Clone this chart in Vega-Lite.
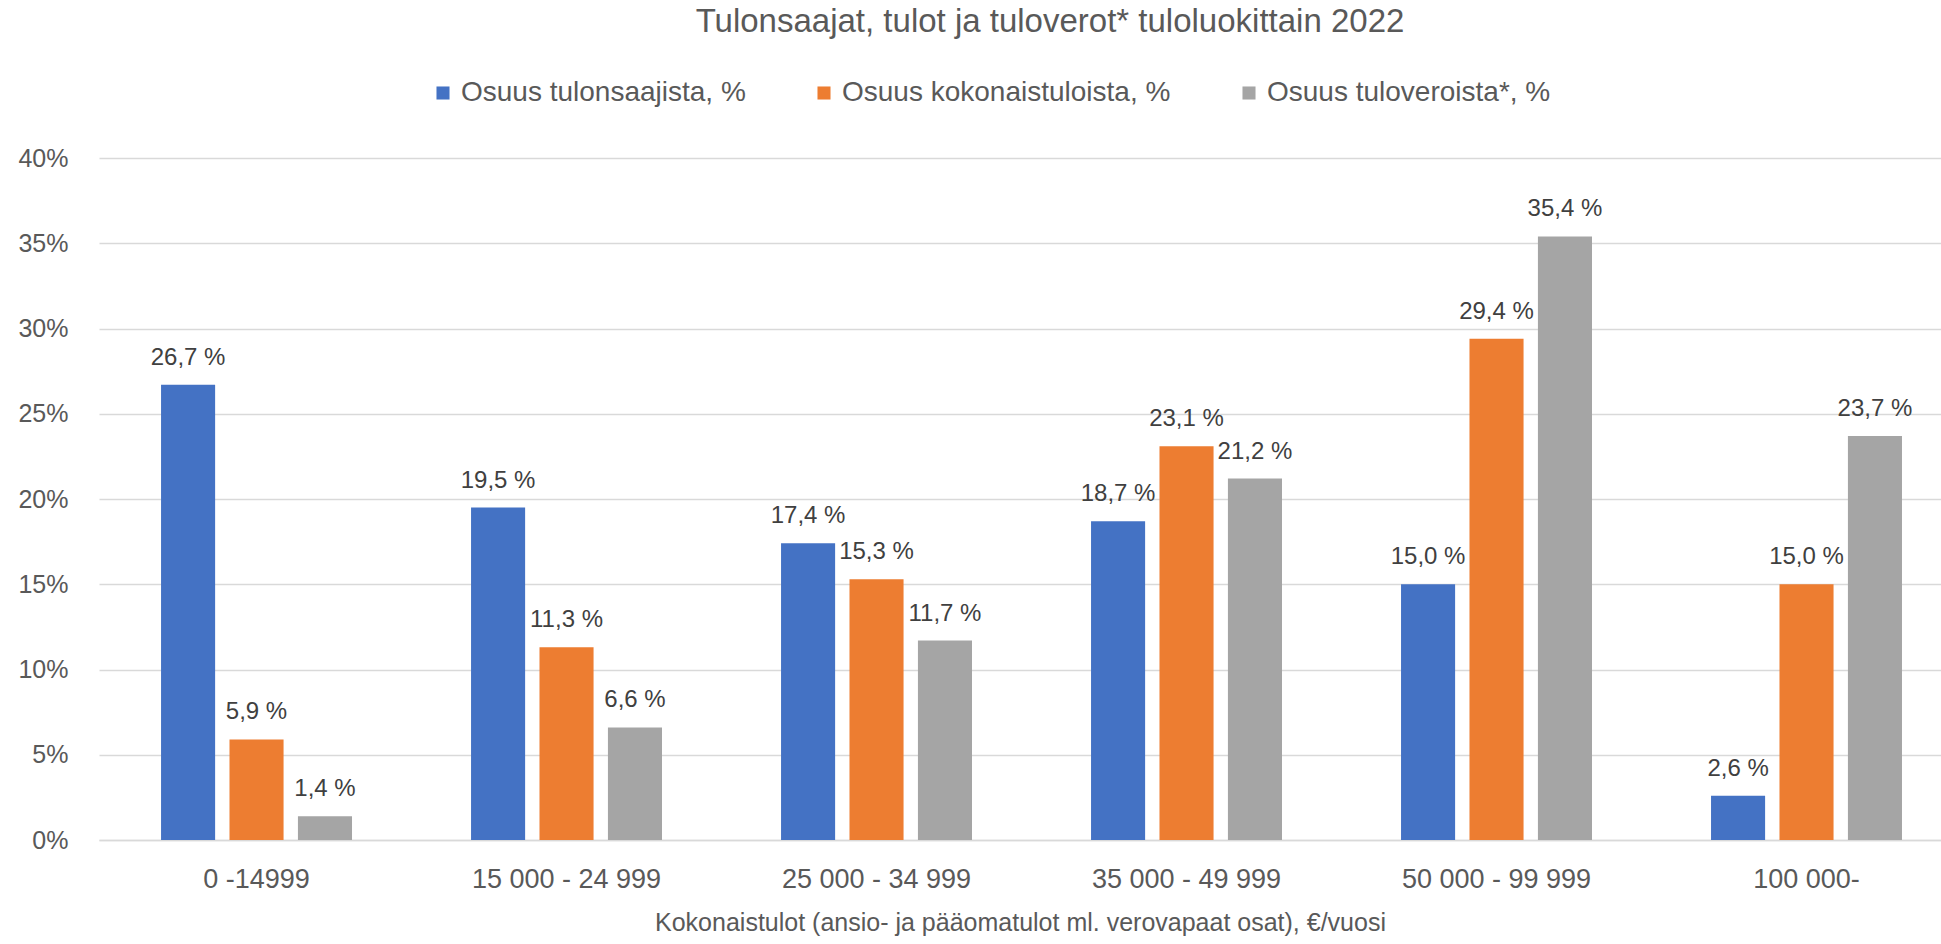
{
  "$schema": "https://vega.github.io/schema/vega-lite/v6.json",
  "autosize": {"type": "none"},
  "width": 1842,
  "height": 682,
  "padding": {"left": 99, "top": 158, "right": 0, "bottom": 104},
  "background": "white",
  "config": {
    "font": "Liberation Sans, sans-serif",
    "view": {"stroke": null},
    "axis": {"labelColor": "#595959", "titleColor": "#595959", "labelFont": "Liberation Sans, sans-serif", "titleFont": "Liberation Sans, sans-serif"}
  },
  "title": {
    "text": "Tulonsaajat, tulot ja tuloverot* tuloluokittain 2022",
    "fontSize": 33,
    "fontWeight": "normal",
    "color": "#595959",
    "anchor": "middle",
    "offset": 40,
    "dx": 30,
    "font": "Liberation Sans, sans-serif"
  },
  "data": {
    "values": [
      {"luokka": "0 -14999", "sarja": "Osuus tulonsaajista, %", "arvo": 26.7},
      {"luokka": "0 -14999", "sarja": "Osuus kokonaistuloista, %", "arvo": 5.9},
      {"luokka": "0 -14999", "sarja": "Osuus tuloveroista*, %", "arvo": 1.4},
      {"luokka": "15 000 - 24 999", "sarja": "Osuus tulonsaajista, %", "arvo": 19.5},
      {"luokka": "15 000 - 24 999", "sarja": "Osuus kokonaistuloista, %", "arvo": 11.3},
      {"luokka": "15 000 - 24 999", "sarja": "Osuus tuloveroista*, %", "arvo": 6.6},
      {"luokka": "25 000 - 34 999", "sarja": "Osuus tulonsaajista, %", "arvo": 17.4},
      {"luokka": "25 000 - 34 999", "sarja": "Osuus kokonaistuloista, %", "arvo": 15.3},
      {"luokka": "25 000 - 34 999", "sarja": "Osuus tuloveroista*, %", "arvo": 11.7},
      {"luokka": "35 000 - 49 999", "sarja": "Osuus tulonsaajista, %", "arvo": 18.7},
      {"luokka": "35 000 - 49 999", "sarja": "Osuus kokonaistuloista, %", "arvo": 23.1},
      {"luokka": "35 000 - 49 999", "sarja": "Osuus tuloveroista*, %", "arvo": 21.2},
      {"luokka": "50 000 - 99 999", "sarja": "Osuus tulonsaajista, %", "arvo": 15.0},
      {"luokka": "50 000 - 99 999", "sarja": "Osuus kokonaistuloista, %", "arvo": 29.4},
      {"luokka": "50 000 - 99 999", "sarja": "Osuus tuloveroista*, %", "arvo": 35.4},
      {"luokka": "100 000-", "sarja": "Osuus tulonsaajista, %", "arvo": 2.6},
      {"luokka": "100 000-", "sarja": "Osuus kokonaistuloista, %", "arvo": 15.0},
      {"luokka": "100 000-", "sarja": "Osuus tuloveroista*, %", "arvo": 23.7}
    ]
  },
  "encoding": {
    "x": {
      "field": "luokka",
      "type": "nominal",
      "sort": null,
      "scale": {"paddingInner": 0.384, "paddingOuter": 0.163, "align": 0.614},
      "axis": {
        "title": "Kokonaistulot (ansio- ja pääomatulot ml. verovapaat osat), €/vuosi",
        "labelAngle": 0,
        "labelFontSize": 27,
        "labelLimit": 0,
        "titleFontSize": 25,
        "titleFontWeight": "normal",
        "labelPadding": 26,
        "titlePadding": 18,
        "ticks": false,
        "domainColor": "#d9d9d9",
        "domainWidth": 1.5,
        "grid": false
      }
    },
    "xOffset": {
      "field": "sarja",
      "type": "nominal",
      "sort": null,
      "scale": {"paddingInner": 0.21, "paddingOuter": 0}
    },
    "y": {
      "field": "arvo",
      "type": "quantitative",
      "scale": {"domain": [0, 40], "nice": false},
      "axis": {
        "title": null,
        "values": [0, 5, 10, 15, 20, 25, 30, 35, 40],
        "labelExpr": "datum.value + '%'",
        "labelFontSize": 25,
        "labelPadding": 31,
        "ticks": false,
        "domain": false,
        "gridColor": "#d9d9d9",
        "gridWidth": 1.5
      }
    }
  },
  "layer": [
    {
      "mark": {"type": "bar"},
      "encoding": {
        "color": {
          "field": "sarja",
          "type": "nominal",
          "sort": null,
          "scale": {
            "domain": ["Osuus tulonsaajista, %", "Osuus kokonaistuloista, %", "Osuus tuloveroista*, %"],
            "range": ["#4472C4", "#ED7D31", "#A5A5A5"]
          },
          "legend": {
            "title": null,
            "orient": "none",
            "direction": "horizontal",
            "legendX": 330,
            "legendY": -79,
            "symbolType": "square",
            "symbolSize": 170,
            "symbolStrokeWidth": 0,
            "labelFontSize": 28,
            "labelColor": "#595959",
            "labelLimit": 0,
            "labelOffset": 4,
            "columnPadding": 64,
            "labelFont": "Liberation Sans, sans-serif"
          }
        }
      }
    },
    {
      "mark": {
        "type": "text",
        "baseline": "middle",
        "dy": -27,
        "fontSize": 24,
        "color": "#404040",
        "text": {"expr": "replace(format(datum.arvo, '.1f'), '.', ',') + ' %'"}
      }
    }
  ]
}
